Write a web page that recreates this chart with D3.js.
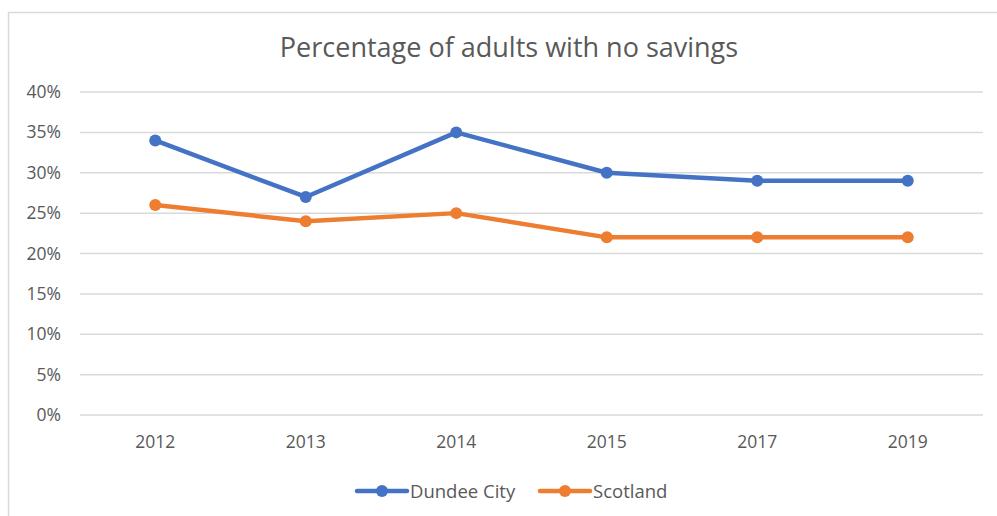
<!DOCTYPE html>
<html><head><meta charset="utf-8">
<script src="https://cdn.jsdelivr.net/npm/d3@7"></script>
<style>html,body{margin:0;padding:0;background:#fff;}svg{display:block;font-family:"Open Sans","Liberation Sans",sans-serif;}</style>
</head><body>
<svg id="chart" width="997" height="516"></svg>
<script>
const categories = ["2012","2013","2014","2015","2017","2019"];
const dundee = [34,27,35,30,29,29];
const scotland = [26,24,25,22,22,22];
const yTicks = [0,5,10,15,20,25,30,35,40];
const seriesNames = ["Dundee City","Scotland"];
const colors = ["#4472C4","#ED7D31"];

const svg = d3.select("#chart");
svg.append("rect").attr("x",8.5).attr("y",12.5).attr("width",1200).attr("height",600)
  .attr("fill","none").attr("stroke","#d9d9d9").attr("stroke-width",1.5);

const x = d3.scaleBand().domain(categories).range([80,983]);
const y = d3.scaleLinear().domain([0,40]).range([415,92]);

svg.append("text").attr("x",509).attr("y",57).attr("text-anchor","middle")
  .attr("font-size",27).attr("fill","#595959").text("Percentage of adults with no savings");

svg.append("g").selectAll("line").data(yTicks).enter().append("line")
  .attr("x1",80).attr("x2",983).attr("y1",d=>y(d)).attr("y2",d=>y(d))
  .attr("stroke","#d9d9d9").attr("stroke-width",1.5);

svg.append("g").selectAll("text").data(yTicks).enter().append("text")
  .attr("x",61).attr("y",d=>y(d)+6).attr("text-anchor","end")
  .attr("font-size",17.5).attr("fill","#595959").text(d=>d+"%");

svg.append("g").selectAll("text").data(categories).enter().append("text")
  .attr("x",d=>x(d)+x.bandwidth()/2).attr("y",448).attr("text-anchor","middle")
  .attr("font-size",17.5).attr("fill","#595959").text(d=>d);

const line = d3.line().x((d,i)=>x(categories[i])+x.bandwidth()/2).y(d=>y(d));
[dundee,scotland].forEach((s,k)=>{
  svg.append("path").datum(s).attr("d",line).attr("fill","none")
    .attr("stroke",colors[k]).attr("stroke-width",4.5).attr("stroke-linejoin","round").attr("stroke-linecap","round");
  svg.append("g").selectAll("circle").data(s).enter().append("circle")
    .attr("cx",(d,i)=>x(categories[i])+x.bandwidth()/2).attr("cy",d=>y(d)).attr("r",6)
    .attr("fill",colors[k]);
});

const legX = [357,540];
seriesNames.forEach((n,k)=>{
  const g = svg.append("g");
  g.append("line").attr("x1",legX[k]).attr("x2",legX[k]+50).attr("y1",491).attr("y2",491)
    .attr("stroke",colors[k]).attr("stroke-width",4.5).attr("stroke-linecap","round");
  g.append("circle").attr("cx",legX[k]+25).attr("cy",491).attr("r",6).attr("fill",colors[k]);
  g.append("text").attr("x",legX[k]+53).attr("y",497.5).attr("font-size",18.5).attr("fill","#595959").text(n);
});
</script>
</body></html>
